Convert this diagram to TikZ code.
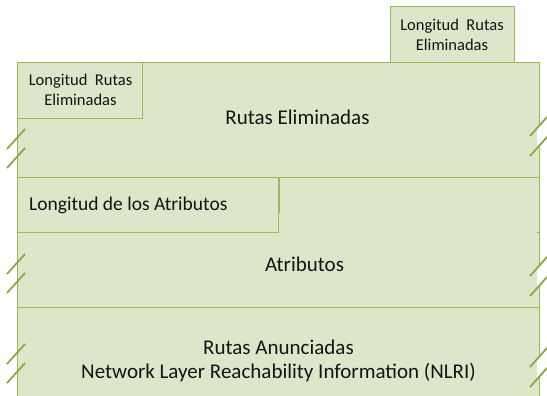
\documentclass[tikz,border=0pt]{standalone}
\usepackage{fontspec}
\setmainfont{Carlito}
\definecolor{boxfill}{RGB}{222,230,201}
\definecolor{boxline}{RGB}{155,187,89}
\definecolor{slashc}{RGB}{138,168,72}
\definecolor{txt}{RGB}{20,20,20}
\begin{document}
\begin{tikzpicture}[x=1pt,y=-1pt,
  box/.style={draw=boxline,fill=boxfill,line width=1.1pt,inner sep=0pt,anchor=north west},
  lbl/.style={text=txt,inner sep=0pt,align=center},
  small/.style={font=\fontsize{16.5}{20}\selectfont},
  big/.style={font=\fontsize{21}{26}\selectfont},
  slash/.style={draw=slashc,line width=1.8pt}]
\useasboundingbox (0,0) rectangle (547,396);
% sections
\node[box,minimum width=522pt,minimum height=115pt] (sec1) at (17,62) {};
\node[box,minimum width=522pt,minimum height=130pt] (sec2) at (17,177) {};
\node[box,minimum width=522pt,minimum height=100pt] (sec3) at (17,307) {};
% small boxes
\node[box,minimum width=124pt,minimum height=56pt] (lenTop) at (390,6) {};
\node[box,minimum width=125pt,minimum height=56pt] (lenLeft) at (17,62) {};
\node[box,minimum width=261pt,minimum height=55pt] (lenAttr) at (17,177) {};
\draw[boxline,line width=1.3pt] (lenAttr.north east) -- ++(0,36);
\draw[boxline,line width=1pt] (537,232) -- (539,232);
% texts
\node[lbl,small] (tTop) at (452,35) {Longitud\ \ Rutas\\Eliminadas};
\node[lbl,small] (tLeft) at (80.5,90) {Longitud\ \ Rutas\\Eliminadas};
\node[lbl,big] (tRE) at (297.5,117) {Rutas Eliminadas};
\node[lbl,font=\fontsize{19.5}{24}\selectfont,anchor=west] (tLA) at (29,205) {Longitud de los Atributos};
\node[lbl,big] (tAt) at (304.5,264) {Atributos};
\node[lbl,big] (tRA1) at (278.5,347) {Rutas Anunciadas};
\node[lbl,big] (tRA2) at (278.5,373) {Network Layer Reachability Information (NLRI)};
% break marks, right side (with white gap)
\foreach \y in {136,276,367}{
  \fill[white] (537,\y-7.8) -- (547,\y-19) -- (547,\y) -- (537,\y+12.2) -- cycle;
  \draw[slash] (530,\y) -- (547,\y-19);
  \draw[slash] (530,\y+20) -- (547,\y+1);
}
% break marks, left side
\foreach \y in {149,274,364}{
  \draw[slash] (7,\y) -- (25,\y-20);
  \draw[slash] (7,\y+19) -- (25,\y-1);
}
\end{tikzpicture}
\end{document}
